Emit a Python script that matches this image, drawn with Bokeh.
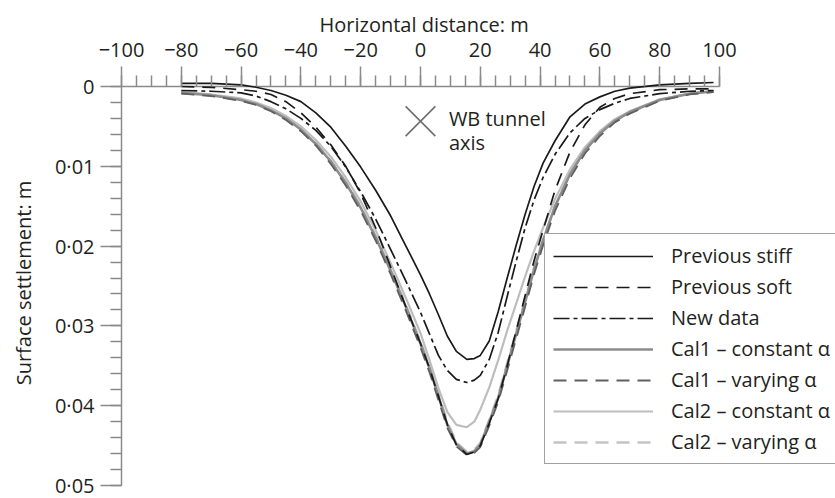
from bokeh.plotting import figure
from bokeh.models import Range1d, FixedTicker, Legend, LegendItem
from bokeh.core.properties import value
from bokeh.embed import file_html
from bokeh.resources import INLINE

# ---- axis ticks / labels ----
x_ticks = [-100, -80, -60, -40, -20, 0, 20, 40, 60, 80, 100]
x_tick_labels = ["−100", "−80", "−60", "−40", "−20", "0", "20", "40", "60", "80", "100"]
y_ticks = [0.0, 0.01, 0.02, 0.03, 0.04, 0.05]
y_tick_labels = ["0", "0·01", "0·02", "0·03", "0·04", "0·05"]
x_title = "Horizontal distance: m"
y_title = "Surface settlement: m"

# ---- data (horizontal distance in m, settlement in m) ----
distance = [-80, -70, -60, -55, -50, -45, -40, -35, -30, -25, -20, -15, -10, -5, 0, 3, 6, 9, 12,
            15.5, 18, 20, 23, 26, 29, 32, 35, 38, 41, 45, 50, 55, 60, 65, 70, 80, 90, 98]

previous_stiff = [-0.0004, -0.0004, -0.0002, 0.0001, 0.0005, 0.0011, 0.0019, 0.0033, 0.0051, 0.0075,
                  0.0101, 0.0130, 0.0162, 0.0199, 0.0236, 0.0260, 0.0286, 0.0313, 0.0332, 0.0342,
                  0.0341, 0.0337, 0.0319, 0.0282, 0.0240, 0.0199, 0.0160, 0.0125, 0.0096, 0.0068,
                  0.0038, 0.0022, 0.0013, 0.0006, 0.0002, -0.0002, -0.0004, -0.0005]

previous_soft = [0.0000, 0.0001, 0.0004, 0.0006, 0.0010, 0.0019, 0.0033, 0.0051, 0.0073, 0.0100,
                 0.0134, 0.0177, 0.0226, 0.0275, 0.0322, 0.0353, 0.0388, 0.0424, 0.0449, 0.0461,
                 0.0458, 0.0450, 0.0422, 0.0391, 0.0350, 0.0306, 0.0262, 0.0218, 0.0180, 0.0130,
                 0.0082, 0.0048, 0.0026, 0.0015, 0.0009, 0.0004, 0.0003, 0.0003]

new_data = [0.0005, 0.0006, 0.0008, 0.0012, 0.0019, 0.0028, 0.0040, 0.0055, 0.0075, 0.0101,
            0.0132, 0.0166, 0.0204, 0.0243, 0.0283, 0.0310, 0.0337, 0.0356, 0.0367, 0.0371,
            0.0368, 0.0362, 0.0342, 0.0308, 0.0263, 0.0219, 0.0177, 0.0142, 0.0114, 0.0085,
            0.0058, 0.0040, 0.0029, 0.0021, 0.0015, 0.0009, 0.0006, 0.0005]

cal1_constant = [0.0008, 0.0011, 0.0017, 0.0022, 0.0030, 0.0040, 0.0054, 0.0072, 0.0094, 0.0121,
                 0.0152, 0.0189, 0.0231, 0.0275, 0.0322, 0.0353, 0.0388, 0.0424, 0.0448, 0.0460,
                 0.0457, 0.0449, 0.0420, 0.0390, 0.0350, 0.0310, 0.0270, 0.0229, 0.0193, 0.0150,
                 0.0110, 0.0080, 0.0059, 0.0043, 0.0032, 0.0017, 0.0009, 0.0006]

cal1_varying = [0.0009, 0.0012, 0.0018, 0.0023, 0.0031, 0.0042, 0.0056, 0.0074, 0.0097, 0.0124,
                0.0156, 0.0193, 0.0235, 0.0280, 0.0327, 0.0358, 0.0393, 0.0428, 0.0451, 0.0462,
                0.0459, 0.0452, 0.0425, 0.0395, 0.0356, 0.0316, 0.0276, 0.0235, 0.0199, 0.0156,
                0.0115, 0.0084, 0.0062, 0.0045, 0.0034, 0.0018, 0.0010, 0.0007]

cal2_constant = [0.0007, 0.0010, 0.0015, 0.0020, 0.0027, 0.0037, 0.0050, 0.0067, 0.0088, 0.0114,
                 0.0144, 0.0180, 0.0221, 0.0264, 0.0309, 0.0343, 0.0378, 0.0408, 0.0424, 0.0427,
                 0.0420, 0.0405, 0.0377, 0.0343, 0.0306, 0.0272, 0.0238, 0.0206, 0.0177, 0.0141,
                 0.0104, 0.0076, 0.0056, 0.0041, 0.0031, 0.0016, 0.0009, 0.0006]

cal2_varying = [0.0008, 0.0011, 0.0016, 0.0021, 0.0029, 0.0039, 0.0053, 0.0071, 0.0093, 0.0119,
                0.0150, 0.0187, 0.0229, 0.0273, 0.0320, 0.0351, 0.0385, 0.0421, 0.0446, 0.0458,
                0.0455, 0.0447, 0.0418, 0.0387, 0.0347, 0.0307, 0.0267, 0.0227, 0.0192, 0.0150,
                0.0110, 0.0080, 0.0059, 0.0043, 0.0032, 0.0017, 0.0009, 0.0006]

series_labels = ["Previous stiff", "Previous soft", "New data", "Cal1 – constant α",
                 "Cal1 – varying α", "Cal2 – constant α", "Cal2 – varying α"]

# tunnel axis marker and its label
tunnel_x = [0]
tunnel_y = [0.00436]
annot_x = [9.5, 9.5]
annot_y = [0.00404, 0.00697]
annot_text = ["WB tunnel", "axis"]

FONT = "Open Sans"
FS = "20px"
TXT = "#231f20"
AXC = "#8a8a8a"

p = figure(width=835, height=498,
           x_range=Range1d(-100, 138.8), y_range=Range1d(0.05, -0.00075),
           x_axis_location="above", y_axis_location="left",
           output_backend="svg", toolbar_location=None,
           min_border_left=121, min_border_top=80, min_border_right=0, min_border_bottom=13)
p.outline_line_color = None
p.xgrid.visible = False
p.ygrid.visible = False
p.background_fill_color = "white"
p.border_fill_color = "white"

# horizontal-axis title (sits above the top axis, centred over x = 0)
p.title.text = x_title
p.title.align = "left"
p.title.offset = 198
p.title.standoff = 3
p.title.text_font = FONT
p.title.text_font_size = FS
p.title.text_font_style = "normal"
p.title.text_color = TXT

xa = p.xaxis[0]
xa.ticker = FixedTicker(ticks=x_ticks, minor_ticks=[v for v in range(-100, 101, 5)])
xa.major_label_overrides = dict(zip(x_ticks, x_tick_labels))
xa.bounds = (x_ticks[0], x_ticks[-1])
xa.axis_line_color = None
xa.major_tick_in = 6
xa.major_tick_out = 14
xa.minor_tick_in = 6
xa.minor_tick_out = 5
xa.major_tick_line_color = AXC
xa.minor_tick_line_color = AXC
xa.major_tick_line_width = 1.5
xa.minor_tick_line_width = 1.5
xa.major_label_standoff = 10

ya = p.yaxis[0]
ya.ticker = FixedTicker(ticks=y_ticks, minor_ticks=[i * 0.002 for i in range(26)])
ya.major_label_overrides = dict(zip(y_ticks, y_tick_labels))
ya.bounds = (y_ticks[0], y_ticks[-1])
ya.axis_line_color = AXC
ya.axis_line_width = 1.5
ya.major_tick_in = 0
ya.major_tick_out = 21
ya.minor_tick_in = 0
ya.minor_tick_out = 11
ya.major_tick_line_color = AXC
ya.minor_tick_line_color = AXC
ya.major_tick_line_width = 1.5
ya.minor_tick_line_width = 1.5
ya.major_label_standoff = 6
ya.axis_label = y_title
ya.axis_label_standoff = 15

for ax in (xa, ya):
    ax.major_label_text_font = FONT
    ax.major_label_text_font_size = FS
    ax.major_label_text_color = TXT
    ax.axis_label_text_font = FONT
    ax.axis_label_text_font_size = FS
    ax.axis_label_text_font_style = "normal"
    ax.axis_label_text_color = TXT

# horizontal axis rule along zero settlement
p.line(x=[x_ticks[0], x_ticks[-1]], y=[y_ticks[0], y_ticks[0]], line_color=AXC, line_width=1.5)

# curves (grey ones underneath)
r_c2c = p.line(distance, cal2_constant, line_color="#bdbdbd", line_width=2.2)
r_c2v = p.line(distance, cal2_varying, line_color="#c4c4c4", line_width=2.6, line_dash="13 8")
r_c1c = p.line(distance, cal1_constant, line_color="#8c8c8c", line_width=2.6)
r_c1v = p.line(distance, cal1_varying, line_color="#5f5f5f", line_width=1.8, line_dash="13 8")
r_soft = p.line(distance, previous_soft, line_color="#1a1a1a", line_width=1.7, line_dash="13 8")
r_new = p.line(distance, new_data, line_color="#1a1a1a", line_width=1.7, line_dash="16 4 4 4")
r_stiff = p.line(distance, previous_stiff, line_color="#1a1a1a", line_width=1.7)

p.scatter(tunnel_x, tunnel_y, marker="x", size=42, line_color="#6e6e6e", line_width=1.6)
p.text(x=annot_x, y=annot_y, text=annot_text, text_font=value(FONT), text_font_size=FS,
       text_color=TXT, text_baseline="alphabetic", text_align="left")

renderers = [r_stiff, r_soft, r_new, r_c1c, r_c1v, r_c2c, r_c2v]
legend = Legend(items=[LegendItem(label=lab, renderers=[r]) for lab, r in zip(series_labels, renderers)],
                location=(423, 21), glyph_width=100, glyph_height=20, label_standoff=18,
                padding=8, spacing=4, margin=0,
                border_line_color="#444444", border_line_width=1.3,
                label_text_font=FONT, label_text_font_size=FS, label_text_color=TXT,
                background_fill_color="white", background_fill_alpha=1.0)
p.add_layout(legend)

open("out.html", "w").write(file_html(p, INLINE))
